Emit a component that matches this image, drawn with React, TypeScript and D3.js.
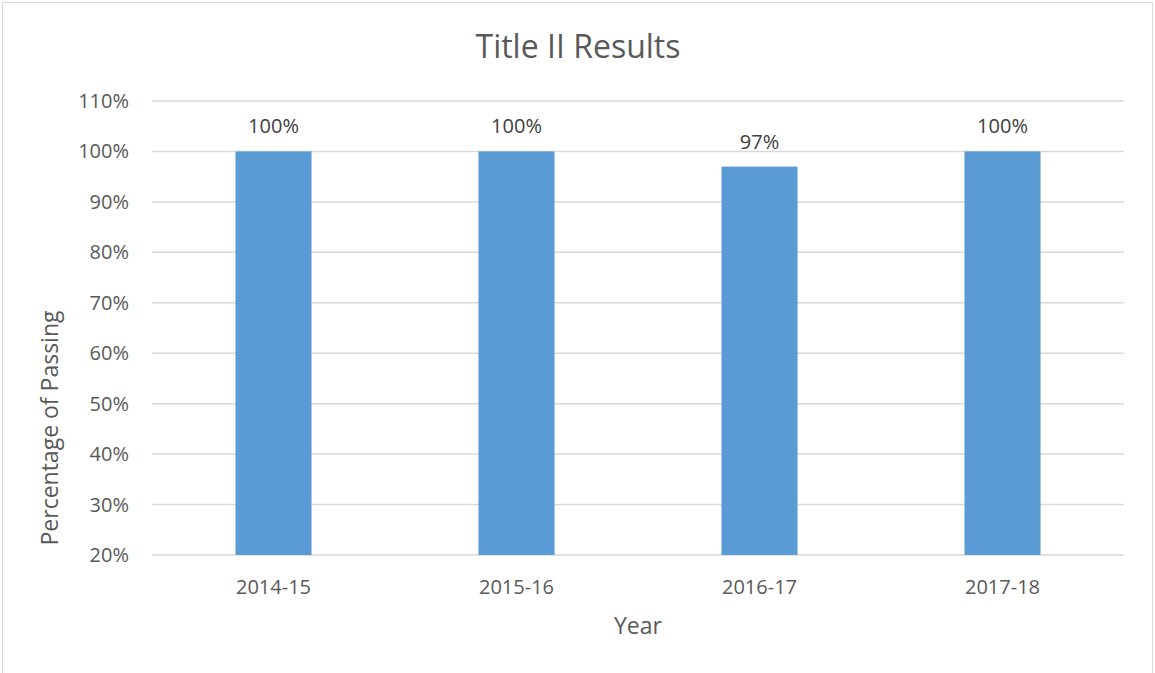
import React from "react";
import { scaleBand, scaleLinear } from "d3";

const years = ["2014-15", "2015-16", "2016-17", "2017-18"];
const passing = [100, 100, 97, 100];
const yTicks = [20, 30, 40, 50, 60, 70, 80, 90, 100, 110];

const W = 1155;
const H = 673;
const font = "'Open Sans', 'Noto Sans', sans-serif";
const textColor = "#595959";

const App = () => {
  const x = scaleBand<string>()
    .domain(years)
    .range([152, 1124])
    .paddingInner(0.687)
    .paddingOuter(0.3435);
  const y = scaleLinear().domain([20, 110]).range([555, 101]);

  return (
    <svg
      width={W}
      height={H}
      style={{ position: "absolute", left: 0, top: 0, background: "#fff" }}
      fontFamily={font}
    >
      <rect x={2.5} y={2.5} width={1150} height={680} fill="#fff" stroke="#d9d9d9" />
      <text x={578} y={58} textAnchor="middle" fontSize={32} fill={textColor}>
        Title II Results
      </text>

      {/* gridlines + y ticks */}
      {yTicks.map((t) => (
        <g key={t}>
          <line x1={152} x2={1124} y1={y(t)} y2={y(t)} stroke="#d9d9d9" strokeWidth={1.5} />
          <text x={129} y={y(t)} dy="0.35em" textAnchor="end" fontSize={20} fill={textColor}>
            {t}%
          </text>
        </g>
      ))}

      {/* bars */}
      {years.map((yr, i) => (
        <g key={yr}>
          <rect
            x={x(yr)}
            y={y(passing[i])}
            width={x.bandwidth()}
            height={y(20) - y(passing[i])}
            fill="#5b9bd5"
          />
          <text
            x={x(yr)! + x.bandwidth() / 2}
            y={y(passing[i]) - 18}
            textAnchor="middle"
            fontSize={20}
            fill="#404040"
          >
            {passing[i]}%
          </text>
          <text
            x={x(yr)! + x.bandwidth() / 2}
            y={594}
            textAnchor="middle"
            fontSize={20}
            fill={textColor}
          >
            {yr}
          </text>
        </g>
      ))}

      <text x={638} y={634} textAnchor="middle" fontSize={23} fill={textColor}>
        Year
      </text>
      <text
        transform="translate(58, 428) rotate(-90)"
        textAnchor="middle"
        fontSize={23}
        fill={textColor}
      >
        Percentage of Passing
      </text>
    </svg>
  );
};

export default App;
